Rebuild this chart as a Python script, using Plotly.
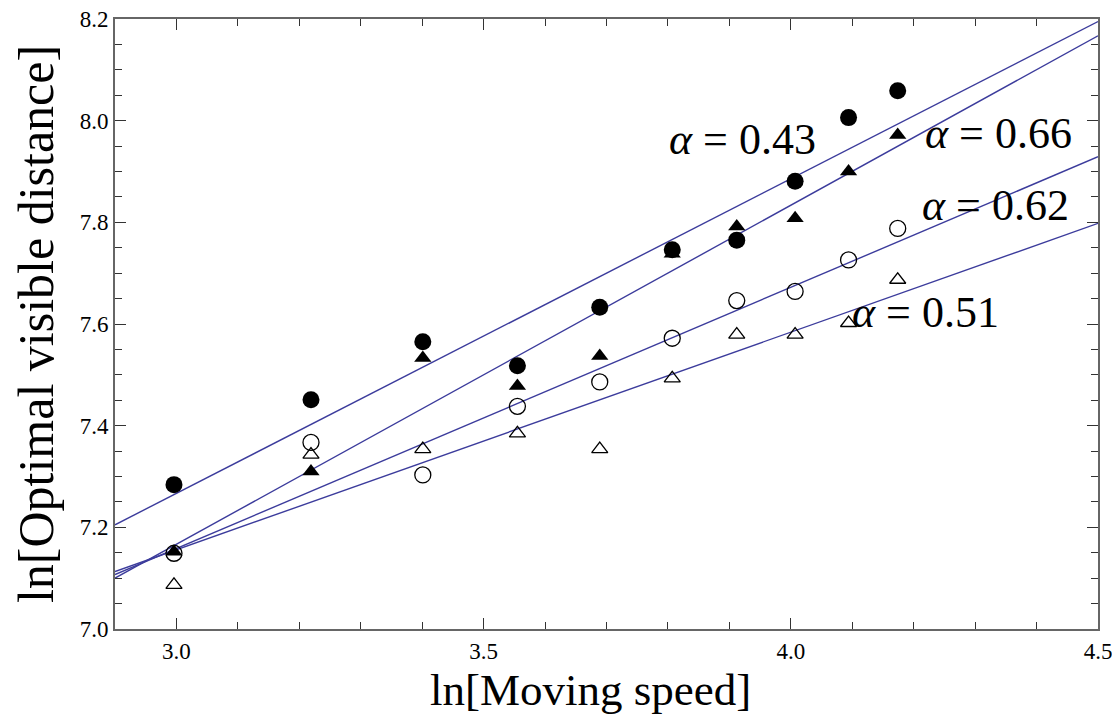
import plotly.graph_objects as go

# ln(moving speed) for each measurement
x_vals = [2.996, 3.219, 3.401, 3.555, 3.689, 3.807, 3.912, 4.007, 4.094, 4.174]

# ln(optimal visible distance), four series
y_filled_circle = [7.284, 7.451, 7.565, 7.518, 7.633, 7.746, 7.765, 7.881, 8.006, 8.059]
y_filled_tri    = [7.152, 7.310, 7.533, 7.478, 7.537, 7.738, 7.792, 7.808, 7.900, 7.972]
y_open_circle   = [7.149, 7.367, 7.303, 7.438, 7.486, 7.572, 7.646, 7.664, 7.726, 7.788]
y_open_tri      = [7.087, 7.343, 7.354, 7.385, 7.354, 7.493, 7.579, 7.579, 7.602, 7.687]

# fitted lines: values at the ends of the x range
fit_x = [2.9, 4.5]
fit_filled_circle = [7.205, 8.195]
fit_filled_tri    = [7.100, 8.167]
fit_open_circle   = [7.107, 7.929]
fit_open_tri      = [7.113, 7.798]

labels = ["0.43", "0.66", "0.62", "0.51"]
label_x = [3.921, 4.338, 4.333, 4.219]
label_y = [7.962, 7.974, 7.834, 7.622]

y_ticks = [7.0, 7.2, 7.4, 7.6, 7.8, 8.0, 8.2]
x_ticks = [3.0, 3.5, 4.0, 4.5]

LINE = "#3c3c9c"
SERIF = "Liberation Serif"

fig = go.Figure()
for fy in [fit_filled_circle, fit_filled_tri, fit_open_circle, fit_open_tri]:
    fig.add_trace(go.Scatter(x=fit_x, y=fy, mode="lines",
                             line=dict(color=LINE, width=1.4), showlegend=False, hoverinfo="skip"))

fig.add_trace(go.Scatter(x=x_vals, y=y_open_tri, mode="markers",
                         marker=dict(symbol="triangle-up-open", size=14, color="black", line=dict(width=1.3)),
                         showlegend=False))
fig.add_trace(go.Scatter(x=x_vals, y=y_open_circle, mode="markers",
                         marker=dict(symbol="circle-open", size=16, color="black", line=dict(width=1.3)),
                         showlegend=False))
fig.add_trace(go.Scatter(x=x_vals, y=y_filled_tri, mode="markers",
                         marker=dict(symbol="triangle-up", size=15, color="black"),
                         showlegend=False))
fig.add_trace(go.Scatter(x=x_vals, y=y_filled_circle, mode="markers",
                         marker=dict(symbol="circle", size=17, color="black"),
                         showlegend=False))

for lab, lx, ly in zip(labels, label_x, label_y):
    fig.add_annotation(x=lx, y=ly, xref="x", yref="y", text="<i>α</i> = " + lab,
                       showarrow=False, font=dict(family=SERIF, size=44, color="black"))

fig.add_annotation(x=0.484, y=0, xref="paper", yref="paper", yanchor="middle", yshift=-61,
                   text="ln[Moving speed]", showarrow=False,
                   font=dict(family=SERIF, size=45, color="black"))

axis_common = dict(showline=True, linecolor="#666666", linewidth=2, mirror="ticks",
                   ticks="inside", ticklen=11, tickwidth=1.2, tickcolor="#333333",
                   showgrid=False, zeroline=False, automargin=False, ticklabeloverflow="allow",
                   tickfont=dict(family=SERIF, size=23, color="black"))

fig.update_xaxes(range=[2.9, 4.5], tickvals=x_ticks, ticktext=[f"{v:.1f}" for v in x_ticks],
                 minor=dict(ticks="inside", dtick=0.1, tick0=3.0, ticklen=7, tickwidth=1.2, tickcolor="#333333"),
                 **axis_common)
fig.update_yaxes(range=[7.0, 8.2], tickvals=y_ticks, ticktext=[f"{v:.1f}" for v in y_ticks],
                 minor=dict(ticks="inside", dtick=0.05, tick0=7.0, ticklen=7, tickwidth=1.2, tickcolor="#333333"),
                 title=dict(text="ln[Optimal visible distance]", font=dict(family=SERIF, size=50, color="black"), standoff=14),
                 **axis_common)

# page body has an 8px margin, so the figure is sized to fit inside the window
fig.update_layout(width=1104, height=706, margin=dict(l=107, r=14, t=11, b=85),
                  plot_bgcolor="white", paper_bgcolor="white")

fig.write_html("out.html")
